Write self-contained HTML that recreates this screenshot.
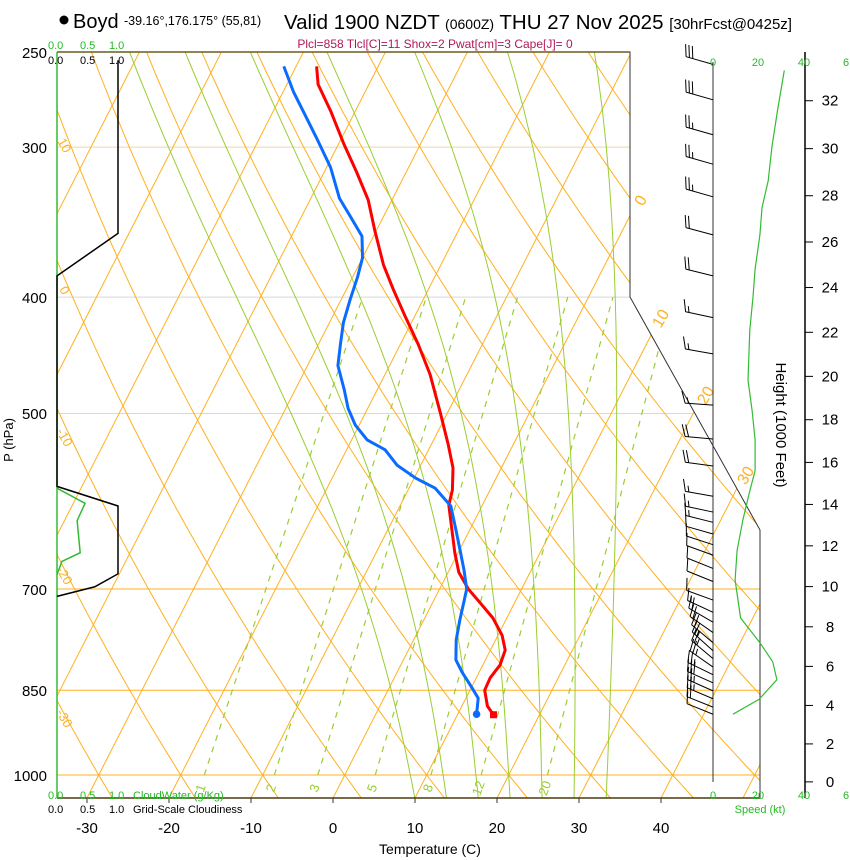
<!DOCTYPE html>
<html><head><meta charset="utf-8"><style>
html,body{margin:0;padding:0;background:#fff;}
svg{display:block;font-family:"Liberation Sans",sans-serif;}
</style></head><body>
<svg id="chart" width="850" height="860" viewBox="0 0 850 860" xmlns="http://www.w3.org/2000/svg">
<defs><clipPath id="plotclip"><polygon points="57,52 630,52 630,297 760,530 760,798 57,798"/></clipPath></defs>
<g id="bg" clip-path="url(#plotclip)"></g>
<g id="fg"></g>
<circle cx="64" cy="20" r="4.5" fill="#000"/>
<text x="73" y="28" font-size="20">Boyd</text>
<text x="124" y="25" font-size="12.5">-39.16°,176.175° (55,81)</text>
<text x="284" y="29" font-size="20.5">Valid 1900 NZDT <tspan font-size="14">(0600Z)</tspan> THU 27 Nov 2025 <tspan font-size="15">[30hrFcst@0425z]</tspan></text>
<text x="435" y="48" font-size="12" fill="#b0185a" text-anchor="middle">Plcl=858 Tlcl[C]=11 Shox=2 Pwat[cm]=3 Cape[J]= 0</text>
<text x="47" y="58" font-size="15" text-anchor="end">250</text>
<text x="47" y="153" font-size="15" text-anchor="end">300</text>
<text x="47" y="303" font-size="15" text-anchor="end">400</text>
<text x="47" y="419" font-size="15" text-anchor="end">500</text>
<text x="47" y="595" font-size="15" text-anchor="end">700</text>
<text x="47" y="696" font-size="15" text-anchor="end">850</text>
<text x="47" y="781" font-size="15" text-anchor="end">1000</text>
<text transform="translate(13,440) rotate(-90)" font-size="13" text-anchor="middle">P (hPa)</text>
<g font-size="11" fill="#22bb22"><text x="48" y="49">0.0</text><text x="80" y="49">0.5</text><text x="109" y="49">1.0</text></g>
<g font-size="11" fill="#000"><text x="48" y="64">0.0</text><text x="80" y="64">0.5</text><text x="109" y="64">1.0</text></g>
<g font-size="11" fill="#22bb22"><text x="48" y="799">0.0</text><text x="80" y="799">0.5</text><text x="109" y="799">1.0</text><text x="133" y="799">CloudWater (g/Kg)</text></g>
<g font-size="11" fill="#000"><text x="48" y="813">0.0</text><text x="80" y="813">0.5</text><text x="109" y="813">1.0</text><text x="133" y="813">Grid-Scale Cloudiness</text></g>
<g font-size="11" fill="#22bb22"><text x="713" y="66" text-anchor="middle">0</text><text x="758" y="66" text-anchor="middle">20</text><text x="804" y="66" text-anchor="middle">40</text><text x="843" y="66">6</text></g>
<g font-size="11" fill="#22bb22"><text x="713" y="799" text-anchor="middle">0</text><text x="758" y="799" text-anchor="middle">20</text><text x="804" y="799" text-anchor="middle">40</text><text x="843" y="799">6</text><text x="760" y="813" text-anchor="middle">Speed (kt)</text></g>
<text x="430" y="854" font-size="14" text-anchor="middle">Temperature (C)</text>
<text transform="translate(776,425) rotate(90)" font-size="15" text-anchor="middle">Height (1000 Feet)</text>
<script>
var tempP=[890,876,850,830,810,787,765,740,718,700,678,653,596,579,555,531,500,464,438,414,394,376,352,332,315,298,280,266,257];
var tempT=[14.3,13.1,11.8,11.7,12.1,11.8,10.5,8.3,5.7,3.5,1.3,-0.4,-4.1,-4.6,-5.9,-7.9,-10.8,-14.5,-17.8,-21.3,-24.3,-27,-30.2,-32.9,-36,-39.4,-43,-46.2,-47.5];
var dewP=[890,863,846,821,802,772,743,715,700,675,650,622,597,577,566,552,536,526,511,495,478,456,438,420,402,385,371,356,342,331,312,296,282,270,257];
var dewT=[12.3,11.5,10.1,7.9,6.4,5.2,4.4,3.7,3.3,1.8,0.1,-1.9,-3.8,-6.8,-9.8,-12.9,-15.3,-18.1,-20.5,-22.4,-24,-26.3,-27.3,-28.3,-28.9,-29.4,-30,-31.4,-34.2,-36.5,-39.5,-42.8,-45.9,-48.7,-51.5];
var spdP=[890,865,833,805,776,740,688,650,613,580,558,526,497,469,426,400,379,355,337,320,300,280,259];
var spdV=[8.7,20,27.8,26,20.4,12,9.6,10.5,13,16,18.3,18.3,17,15.2,16,17.4,18.3,20.4,21.3,24,25.6,28,31];
var barbP=[256,274,293,310,330,355,384,416,446,492,525,553,586,604,616,630,643,656,673,690,715,732,746,761,776,788,800,813,825,838,851,864,878,890];
var barbDir=[286,286,286,286,286,285,284,282,280,274,275,278,280,282,284,286,288,290,292,292,290,295,300,305,310,312,310,305,296,294,294,293,292,292];
var barbSpd=[30,28,27,25,24,22,20,17,16,17,18,18,15,14,13,12,11,10,10,10,11,14,18,20,21,23,25,26,27,28,27,24,18,10];
var cloudP=[254,354,384,575,597,680,697,710];
var cloudV=[1,1,0,0,1,1,0.62,0];
var cwP=[577,594,614,653,664,681];
var cwV=[0,0.46,0.33,0.38,0.08,0];
var isoT=[-110,-100,-90,-80,-70,-60,-50,-40,-30,-20,-10,0,10,20,30,40,50];
var thetaC=[-40,-30,-20,-10,0,10,20,30,40,50,60,70,80,90,100,110,120,130];
var thetaW=[8,12,16,20,24,28,32];
var mixW=[1,2,3,5,8,12,20];
var xTicks=[-30,-20,-10,0,10,20,30,40];
var hTicks=[0,2,4,6,8,10,12,14,16,18,20,22,24,26,28,30,32];

var NS='http://www.w3.org/2000/svg';
function yP(p){return 52+Math.log(p/250)/0.0019174;}
function xT(T,p){return 333+8.2*T+0.51*(798-yP(p));}
function xS(s){return 713+s*2.3;}
function xC(v){return 57+v*61;}
function mk(tag,attrs,parent){var e=document.createElementNS(NS,tag);for(var k in attrs)e.setAttribute(k,attrs[k]);parent.appendChild(e);return e;}
var bg=document.getElementById('bg'),fg=document.getElementById('fg');
var OR='#ffb020',GR='#9acd32';
function pathFrom(pts){return 'M'+pts.map(function(q){return q[0].toFixed(1)+','+q[1].toFixed(1);}).join('L');}
[[300,'#e8d9a8'],[400,'#d8d8d8'],[500,'#d8d8d8'],[700,OR],[850,OR],[1000,OR]].forEach(function(a){
 var l=mk('line',{x1:57,x2:760,y1:yP(a[0]),y2:yP(a[0]),stroke:a[1],'stroke-width':1},bg);
 
 
});
isoT.forEach(function(T){
 var l=mk('line',{x1:xT(T,1100),y1:yP(1100),x2:xT(T,240),y2:yP(240),stroke:OR,'stroke-width':1},bg);
 
 
});
thetaC.forEach(function(th){
 var pts=[];for(var p=1100;p>=240;p-=20){var T=(th+273.15)*Math.pow(p/1000,0.2857)-273.15;pts.push([xT(T,p),yP(p)]);}
 var l=mk('path',{d:pathFrom(pts),fill:'none',stroke:OR,'stroke-width':1},bg);
 
 
});
function es(Tc){return 6.112*Math.exp(17.67*Tc/(Tc+243.5));}
function moistRate(TK,p){var e=es(TK-273.15),rs=0.622*e/(p-e),Lv=2.5e6,Rd=287,cp=1005;
 return (Rd*TK+Lv*rs)/(p*(cp+Lv*Lv*rs*0.622/(Rd*TK*TK)));}
thetaW.forEach(function(tw){
 var up=[],TK=tw+273.15,p=1000;up.push([xT(tw,1000),yP(1000)]);
 while(p>240){TK-=moistRate(TK,p)*5;p-=5;if(p%20===0)up.push([xT(TK-273.15,p),yP(p)]);}
 var dn=[];TK=tw+273.15;p=1000;while(p<1100){TK+=moistRate(TK,p)*5;p+=5;if(p%20===0)dn.push([xT(TK-273.15,p),yP(p)]);}
 var pts=dn.reverse().concat(up);
 var l=mk('path',{d:pathFrom(pts),fill:'none',stroke:GR,'stroke-width':1},bg);
 
 
});
function tdFromW(w,p){var e=w*p/(622+w),a=Math.log(e/6.112);return 243.5*a/(17.67-a);}
mixW.forEach(function(w){
 var l=mk('line',{x1:xT(tdFromW(w,1000),1000),y1:yP(1000),x2:xT(tdFromW(w,400),400),y2:yP(400),stroke:GR,'stroke-width':1.2,'stroke-dasharray':'6,6'},bg);
 
 
 var lx=xT(tdFromW(w,1025),1025),ly=yP(1025);
 var t=mk('text',{x:lx,y:ly+5,'font-size':13,fill:GR,'text-anchor':'middle',transform:'rotate(-70 '+lx+' '+ly+')'},fg);
 t.textContent=String(w);
 
 
});
[[0,640,200],[10,660,318],[20,705,395],[30,745,475]].forEach(function(a){
 var t=mk('text',{x:a[1],y:a[2]+6,'font-size':16,fill:OR,'text-anchor':'middle',transform:'rotate(-60 '+a[1]+' '+a[2]+')'},fg);
 t.textContent=String(a[0]);
 
 
});
[[10,65,145],[0,65,290],[-10,65,437],[-20,65,575],[-30,65,718]].forEach(function(a){
 var t=mk('text',{x:a[1],y:a[2]+5,'font-size':13,fill:OR,'text-anchor':'middle',transform:'rotate(60 '+a[1]+' '+a[2]+')'},fg);
 t.textContent=String(a[0]);
 
 
});
var fr=mk('polyline',{points:'57,52 630,52 630,297 760,530 760,798',fill:'none',stroke:'#333','stroke-width':1},fg);


var tb=mk('line',{x1:57,y1:52,x2:630,y2:52,stroke:'#6b5a1e','stroke-width':1.5},fg);


var bb=mk('line',{x1:57,y1:798,x2:760,y2:798,stroke:'#4a3a10','stroke-width':1.5},fg);


var lb=mk('line',{x1:57,y1:52,x2:57,y2:798,stroke:'#33bb33','stroke-width':1.5},fg);


var ws=mk('line',{x1:713,y1:62,x2:713,y2:782,stroke:'#333','stroke-width':1},fg);


var ha=mk('line',{x1:805,y1:52,x2:805,y2:798,stroke:'#000','stroke-width':1.5},fg);


xTicks.forEach(function(T){
 var x=333+8.2*T;
 var tk=mk('line',{x1:x,y1:798,x2:x,y2:803,stroke:'#333'},fg);
 
 
 var t=mk('text',{x:x,y:833,'font-size':15,'text-anchor':'middle'},fg);
 t.textContent=String(T);
 
 
});
hTicks.forEach(function(h){
 var p=1013.25*Math.pow(1-6.8756e-6*h*1000,5.2559),y=yP(p);
 var tk=mk('line',{x1:805,y1:y,x2:813,y2:y,stroke:'#000'},fg);
 
 
 var t=mk('text',{x:830,y:y+5,'font-size':15,'text-anchor':'middle'},fg);
 t.textContent=String(h);
 
 
});
var cl=mk('polyline',{points:cloudP.map(function(p,i){return xC(cloudV[i])+','+yP(p);}).join(' '),fill:'none',stroke:'#000','stroke-width':1.5},fg);


var cw=mk('polyline',{points:cwP.map(function(p,i){return xC(cwV[i])+','+yP(p);}).join(' '),fill:'none',stroke:'#33bb33','stroke-width':1.5},fg);


var sp=mk('polyline',{points:spdP.map(function(p,i){return xS(spdV[i]).toFixed(1)+','+yP(p).toFixed(1);}).join(' '),fill:'none',stroke:'#33bb33','stroke-width':1.2,'stroke-linejoin':'round'},fg);


barbP.forEach(function(p,i){
 var d=barbDir[i]*Math.PI/180,ux=Math.sin(d),uy=-Math.cos(d),y0=yP(p),x0=713,L=28;
 var tx=x0+ux*L,ty=y0+uy*L;var px=uy,py=-ux;if(py>0){px=-px;py=-py;}
 var g=mk('g',{stroke:'#000','stroke-width':1,fill:'none'},fg);
 
 
 var s='M'+x0+','+y0+'L'+tx.toFixed(1)+','+ty.toFixed(1);
 var sv=Math.round(barbSpd[i]/5)*5,pos=0;
 while(sv>=10){var bx=tx-ux*pos,by=ty-uy*pos;s+='M'+bx.toFixed(1)+','+by.toFixed(1)+'l'+(px*12+ux*4).toFixed(1)+','+(py*12+uy*4).toFixed(1);pos+=3.5;sv-=10;}
 if(sv>=5){if(pos===0)pos=3.5;var bx2=tx-ux*pos,by2=ty-uy*pos;s+='M'+bx2.toFixed(1)+','+by2.toFixed(1)+'l'+(px*6+ux*2).toFixed(1)+','+(py*6+uy*2).toFixed(1);}
 mk('path',{d:s},g);
});
var tl=mk('polyline',{points:tempP.map(function(p,i){return xT(tempT[i],p).toFixed(1)+','+yP(p).toFixed(1);}).join(' '),fill:'none',stroke:'#ff0000','stroke-width':3,'stroke-linejoin':'round'},fg);


var dl=mk('polyline',{points:dewP.map(function(p,i){return xT(dewT[i],p).toFixed(1)+','+yP(p).toFixed(1);}).join(' '),fill:'none',stroke:'#0a6cff','stroke-width':3,'stroke-linejoin':'round'},fg);


var tp=mk('rect',{x:xT(tempT[0],tempP[0])-3,y:yP(tempP[0])-3,width:7,height:7,fill:'#ff0000'},fg);


var dp=mk('circle',{cx:xT(dewT[0],dewP[0]),cy:yP(dewP[0]),r:3.8,fill:'#0a6cff'},fg);


</script>
</svg>
</body></html>
